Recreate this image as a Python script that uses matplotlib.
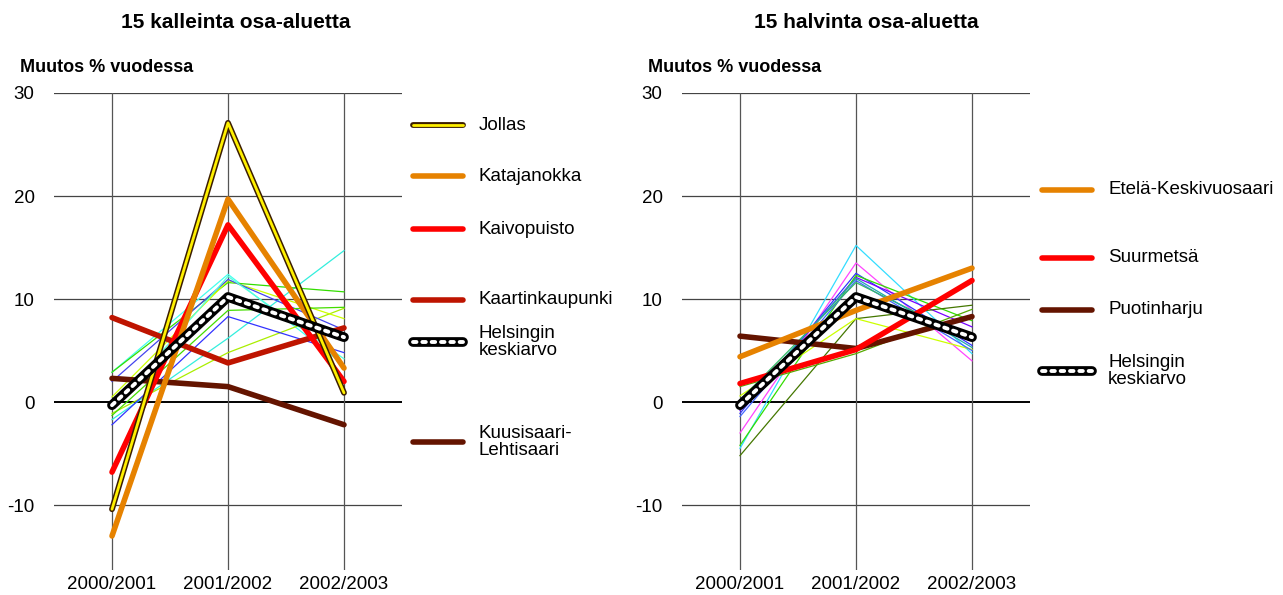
import matplotlib.pyplot as plt
from matplotlib.lines import Line2D

plt.rcParams['font.family'] = ['Liberation Sans', 'DejaVu Sans']

years = ["2000/2001", "2001/2002", "2002/2003"]
yticks = [-10, 0, 10, 20, 30]

# 15 kalleinta: highlighted areas
left_names = ["Jollas", "Katajanokka", "Kaivopuisto", "Kaartinkaupunki",
              "Kuusisaari-\nLehtisaari"]
left_values = [
    [-10.4, 27.1, 0.9],
    [-13.0, 19.7, 3.3],
    [-6.8, 17.2, 2.0],
    [8.2, 3.8, 7.2],
    [2.3, 1.5, -2.2],
]
left_colors = ["#FFF000", "#E68200", "#FF0000", "#BE1400", "#641400"]

# 15 kalleinta: other areas (thin lines)
left_thin = [
    [-1.7, 6.2, 14.7],
    [2.9, 12.4, 3.6],
    [2.9, 11.6, 10.7],
    [-1.1, 4.8, 9.1],
    [0.5, 11.8, 8.1],
    [-2.2, 8.3, 4.8],
    [2.0, 11.9, 7.0],
    [-1.3, 8.9, 9.2],
    [-0.6, 12.2, 4.2],
]
left_thin_colors = ["#33EEDD", "#44FFEE", "#33DD00", "#AAEE00", "#CCFF00",
                    "#3333FF", "#4444EE", "#44DD00", "#55FFDD"]

# 15 halvinta: highlighted areas
right_names = ["Etelä-Keskivuosaari", "Suurmetsä", "Puotinharju"]
right_values = [
    [4.4, 8.9, 13.0],
    [1.8, 5.1, 11.8],
    [6.4, 5.2, 8.3],
]
right_colors = ["#E68200", "#FF0000", "#641400"]

# 15 halvinta: other areas (thin lines)
right_thin = [
    [-4.5, 15.2, 4.7],
    [-3.0, 13.5, 4.0],
    [-1.1, 12.5, 5.5],
    [-0.8, 12.1, 7.3],
    [-4.2, 12.3, 7.9],
    [-5.2, 8.1, 9.4],
    [1.5, 4.7, 9.0],
    [0.6, 8.1, 5.1],
    [-1.4, 11.8, 5.0],
    [0.2, 11.6, 6.0],
    [-0.5, 12.0, 5.3],
]
right_thin_colors = ["#33DDFF", "#FF44FF", "#3333FF", "#7700FF", "#33DD00",
                     "#447700", "#55AA00", "#CCFF00", "#4466FF", "#33BB66",
                     "#22AAAA"]

helsinki = [-0.3, 10.2, 6.3]
helsinki_label = "Helsingin\nkeskiarvo"

W, H = 1283, 595
fig = plt.figure(figsize=(W / 100, H / 100), dpi=100)


def px(x, y):
    return x / W, 1 - y / H


def setup_axes(left_px, title, title_x):
    ax = fig.add_axes([left_px / W, 1 - 570 / H, 348 / W, 477 / H])
    ax.set_xlim(-0.5, 2.5)
    ax.set_ylim(-16.3, 30)
    for s in ax.spines.values():
        s.set_visible(False)
    for v in yticks:
        ax.axhline(v, color="black" if v == 0 else "#444444",
                   lw=1.4 if v == 0 else 0.9, zorder=1)
    for i in range(len(years)):
        ax.axvline(i, color="#555555", lw=0.9, zorder=1)
    ax.set_xticks(range(len(years)))
    ax.set_xticklabels(years, fontsize=13.5)
    ax.set_yticks(yticks)
    ax.set_yticklabels([str(v) for v in yticks], fontsize=13.5)
    ax.tick_params(length=0, pad=4)
    ax.tick_params(axis="y", pad=14)
    fig.text(*px(title_x, 22), title, ha="center", va="center",
             fontsize=15, fontweight="bold")
    fig.text(*px(left_px - 34, 68), "Muutos % vuodessa", ha="left",
             va="center", fontsize=13, fontweight="bold")
    return ax


def plot_helsinki(ax, values):
    x = range(len(values))
    ax.plot(x, values, color="black", lw=7, solid_capstyle="round",
            solid_joinstyle="round", zorder=20)
    ax.plot(x, values, color="white", lw=2.8, dashes=(0.9, 1.5),
            dash_capstyle="round", zorder=21)


def legend_entry(x0, y, label, color, kind="plain"):
    x1 = x0 + 50
    if kind == "helsinki":
        fig.add_artist(Line2D([x0 / W, x1 / W], [1 - y / H] * 2,
                              color="black", lw=7, solid_capstyle="round"))
        fig.add_artist(Line2D([x0 / W, x1 / W], [1 - y / H] * 2,
                              color="white", lw=2.8, dashes=(0.9, 1.5),
                              dash_capstyle="round"))
    elif kind == "outlined":
        fig.add_artist(Line2D([x0 / W, x1 / W], [1 - y / H] * 2,
                              color="#3C1E00", lw=4.2, solid_capstyle="round"))
        fig.add_artist(Line2D([x0 / W, x1 / W], [1 - y / H] * 2,
                              color=color, lw=2.0, solid_capstyle="round"))
    else:
        fig.add_artist(Line2D([x0 / W, x1 / W], [1 - y / H] * 2,
                              color=color, lw=4.0, solid_capstyle="round"))
    fig.text(*px(x1 + 16, y), label, ha="left", va="center", fontsize=13.5,
             linespacing=0.95)


# left panel
ax1 = setup_axes(54, "15 kalleinta osa-aluetta", 236)
for vals, col in zip(left_thin, left_thin_colors):
    ax1.plot(range(3), vals, color=col, lw=0.9, zorder=3)
for i, (vals, col) in enumerate(zip(left_values, left_colors)):
    if i == 0:
        ax1.plot(range(3), vals, color="#3C1E00", lw=4.2,
                 solid_capstyle="round", zorder=12)
        ax1.plot(range(3), vals, color=col, lw=2.0,
                 solid_capstyle="round", zorder=13)
    else:
        ax1.plot(range(3), vals, color=col, lw=4.0, solid_capstyle="round",
                 zorder=10 - i)
plot_helsinki(ax1, helsinki)

left_legend_y = [125, 176, 229, 300, 442]
for i, (name, col, y) in enumerate(zip(left_names, left_colors, left_legend_y)):
    legend_entry(413, y, name, col, "outlined" if i == 0 else "plain")
legend_entry(413, 342, helsinki_label, "black", "helsinki")

# right panel
ax2 = setup_axes(682, "15 halvinta osa-aluetta", 866)
for vals, col in zip(right_thin, right_thin_colors):
    ax2.plot(range(3), vals, color=col, lw=0.9, zorder=3)
for i, (vals, col) in enumerate(zip(right_values, right_colors)):
    ax2.plot(range(3), vals, color=col, lw=4.0, solid_capstyle="round",
             zorder=10 - i)
plot_helsinki(ax2, helsinki)

right_legend_y = [190, 258, 310]
for name, col, y in zip(right_names, right_colors, right_legend_y):
    legend_entry(1042, y, name, col)
legend_entry(1042, 371, helsinki_label, "black", "helsinki")

fig.savefig("out.png", dpi=100)
